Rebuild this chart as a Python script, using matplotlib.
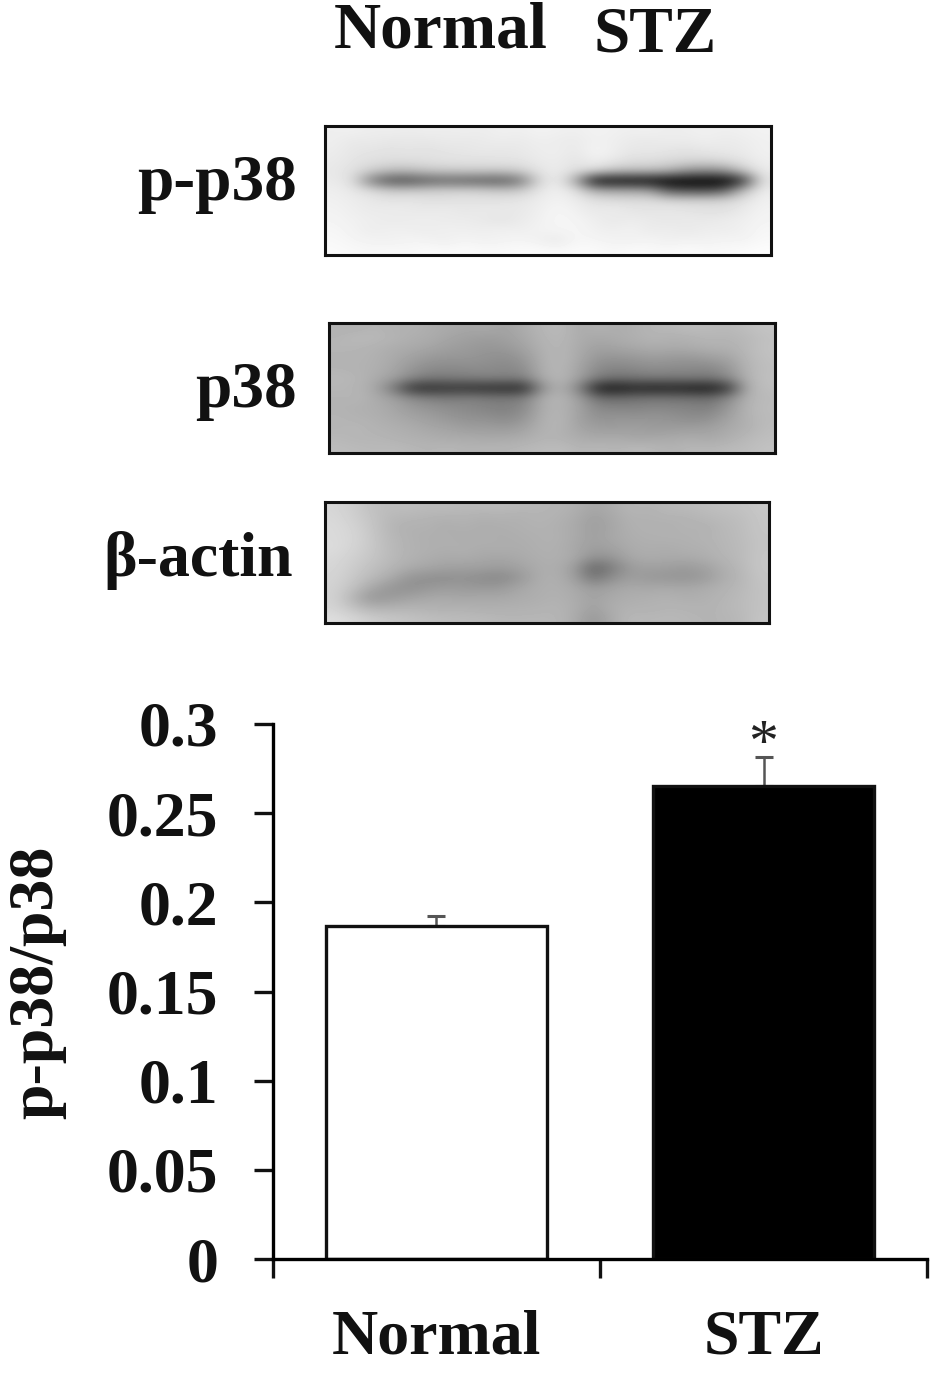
"""
Western blot panels and p-p38/p38 bar chart
"""

import matplotlib
matplotlib.use("Agg")
import matplotlib.pyplot as plt

# ---------------------------------------------------------------------------
# Data
# ---------------------------------------------------------------------------

groups = ["Normal", "STZ"]
ratio_means = [0.187, 0.2655]
ratio_errors = [0.0055, 0.016]
y_ticks = [0, 0.05, 0.1, 0.15, 0.2, 0.25, 0.3]
y_tick_labels = ["0", "0.05", "0.1", "0.15", "0.2", "0.25", "0.3"]
blot_names = ["p-p38", "p38", "β-actin"]

# gray levels of the blots, coarse grid
blot_pp38 = [
    [238, 240, 236, 238, 235, 238, 236, 238, 236, 240, 238, 242, 240, 238, 242, 240, 238, 240, 236, 238, 240, 238, 240, 242],
    [238, 232, 234, 230, 232, 230, 234, 232, 234, 236, 234, 238, 236, 234, 240, 238, 234, 232, 236, 234, 238, 234, 236, 240],
    [236, 230, 228, 226, 228, 226, 228, 230, 232, 230, 232, 236, 238, 232, 244, 238, 230, 232, 228, 226, 230, 232, 234, 240],
    [234, 228, 224, 222, 222, 224, 226, 226, 226, 228, 228, 234, 236, 228, 238, 232, 222, 222, 218, 216, 214, 220, 228, 238],
    [232, 224, 206, 190, 188, 198, 202, 204, 204, 202, 208, 228, 236, 222, 218, 196, 190, 190, 180, 150, 142, 150, 200, 234],
    [234, 222, 125, 80, 78, 94, 100, 96, 92, 88, 115, 212, 238, 170, 16, 10, 10, 8, 0, 0, 0, 0, 45, 226],
    [238, 232, 220, 204, 204, 206, 210, 210, 208, 200, 204, 230, 240, 226, 176, 168, 166, 160, 90, 80, 76, 95, 190, 236],
    [240, 236, 232, 228, 230, 226, 224, 228, 226, 228, 230, 236, 242, 236, 226, 222, 220, 222, 216, 214, 214, 216, 226, 240],
    [242, 238, 234, 236, 234, 232, 236, 230, 234, 232, 232, 238, 246, 240, 232, 236, 230, 228, 232, 228, 226, 224, 234, 242],
    [244, 240, 238, 234, 236, 238, 234, 236, 232, 228, 234, 240, 246, 244, 238, 232, 236, 234, 230, 234, 232, 236, 238, 244],
    [246, 242, 236, 240, 238, 236, 240, 238, 238, 240, 238, 242, 244, 246, 240, 238, 242, 234, 238, 232, 238, 236, 240, 246],
    [248, 244, 242, 240, 244, 242, 238, 244, 240, 242, 244, 240, 232, 246, 244, 242, 240, 244, 238, 242, 240, 244, 242, 248],
    [250, 248, 246, 248, 246, 250, 248, 250, 248, 248, 250, 250, 248, 250, 250, 246, 250, 248, 248, 250, 248, 248, 250, 252],
]

blot_p38 = [
    [178, 176, 182, 176, 178, 172, 170, 166, 170, 162, 172, 182, 186, 170, 178, 172, 176, 182, 184, 188, 186, 184, 190, 196],
    [180, 186, 184, 180, 174, 172, 164, 160, 156, 160, 168, 180, 184, 172, 168, 172, 176, 180, 176, 178, 182, 180, 184, 192],
    [182, 180, 178, 172, 170, 164, 158, 154, 150, 152, 162, 178, 182, 170, 160, 164, 168, 172, 170, 172, 176, 176, 184, 194],
    [178, 180, 176, 170, 160, 152, 150, 150, 146, 142, 152, 176, 184, 168, 150, 148, 152, 156, 152, 152, 158, 164, 182, 192],
    [180, 178, 176, 166, 150, 140, 138, 140, 140, 136, 142, 176, 182, 164, 138, 134, 138, 142, 140, 138, 136, 150, 180, 190],
    [184, 182, 172, 160, 136, 122, 124, 126, 130, 128, 130, 172, 184, 160, 124, 114, 118, 122, 120, 122, 120, 138, 178, 192],
    [182, 180, 168, 118, 46, 44, 50, 48, 44, 42, 40, 146, 178, 128, 26, 22, 34, 28, 32, 26, 24, 52, 174, 190],
    [180, 182, 172, 160, 140, 128, 124, 130, 124, 122, 128, 174, 182, 158, 112, 108, 114, 118, 116, 114, 110, 138, 178, 186],
    [178, 176, 174, 166, 154, 148, 142, 136, 132, 128, 138, 174, 180, 162, 136, 134, 132, 136, 134, 132, 128, 152, 180, 188],
    [182, 178, 176, 170, 164, 158, 150, 146, 144, 138, 148, 176, 182, 160, 146, 150, 148, 150, 146, 140, 144, 162, 178, 186],
    [180, 184, 178, 176, 172, 166, 164, 156, 158, 154, 162, 178, 180, 164, 158, 156, 160, 154, 156, 158, 160, 170, 176, 188],
    [184, 180, 182, 178, 176, 174, 170, 172, 168, 170, 172, 180, 178, 172, 168, 172, 164, 168, 170, 172, 168, 174, 184, 190],
    [188, 186, 184, 186, 182, 180, 184, 178, 182, 180, 184, 186, 188, 180, 184, 180, 186, 182, 178, 184, 182, 186, 188, 194],
]

blot_actin = [
    [214, 206, 192, 188, 190, 186, 188, 184, 186, 186, 184, 182, 180, 176, 166, 172, 182, 180, 184, 186, 188, 192, 194, 200],
    [216, 208, 196, 184, 182, 180, 178, 180, 176, 178, 176, 180, 178, 172, 160, 168, 178, 176, 180, 178, 184, 186, 190, 198],
    [218, 212, 198, 182, 176, 178, 172, 176, 172, 174, 176, 178, 176, 170, 158, 166, 176, 178, 174, 180, 176, 184, 188, 198],
    [218, 214, 200, 184, 178, 174, 176, 172, 176, 172, 174, 176, 178, 170, 160, 168, 174, 176, 178, 176, 180, 182, 188, 196],
    [220, 212, 200, 186, 178, 176, 174, 176, 172, 174, 172, 176, 176, 168, 158, 162, 172, 174, 172, 176, 176, 182, 186, 196],
    [216, 208, 198, 186, 178, 174, 170, 172, 168, 166, 170, 174, 176, 170, 146, 150, 168, 172, 170, 170, 174, 180, 186, 198],
    [214, 204, 192, 182, 172, 166, 162, 160, 160, 156, 162, 172, 174, 158, 100, 124, 156, 160, 158, 154, 160, 174, 184, 198],
    [212, 200, 186, 172, 150, 144, 142, 146, 140, 136, 150, 172, 176, 160, 116, 142, 158, 152, 150, 148, 154, 172, 182, 196],
    [210, 194, 168, 150, 144, 150, 156, 154, 152, 154, 166, 174, 176, 170, 156, 164, 170, 168, 170, 168, 172, 178, 184, 194],
    [210, 180, 150, 154, 162, 168, 170, 166, 170, 168, 172, 174, 178, 172, 162, 170, 174, 176, 178, 174, 176, 180, 186, 194],
    [212, 194, 178, 178, 180, 178, 176, 178, 174, 176, 176, 178, 180, 174, 160, 174, 178, 178, 180, 180, 178, 182, 186, 194],
    [222, 214, 204, 198, 194, 190, 188, 186, 186, 182, 182, 182, 182, 172, 150, 170, 184, 182, 184, 182, 180, 180, 184, 196],
]
blots = [blot_pp38, blot_p38, blot_actin]

# ---------------------------------------------------------------------------
# Layout helpers
# ---------------------------------------------------------------------------

FIG_W, FIG_H = 945, 1381
FONT = "Liberation Serif"


def px_axes(fig, left, top, right, bottom):
    """Add axes from pixel edges counted from the top left."""
    return fig.add_axes([left / FIG_W, 1 - bottom / FIG_H,
                         (right - left) / FIG_W, (bottom - top) / FIG_H])


def px_text(fig, x, y, s, size=46, ha="center"):
    """Bold serif label placed at a pixel position."""
    fig.text(x / FIG_W, 1 - y / FIG_H, s, fontsize=size, fontweight="bold",
             family=FONT, ha=ha, va="center", color="#111111")


# ---------------------------------------------------------------------------
# Figure
# ---------------------------------------------------------------------------

fig = plt.figure(figsize=(FIG_W / 100, FIG_H / 100), dpi=100)

# header over the blots
px_text(fig, 441, 32, groups[0], size=47)
px_text(fig, 655, 35, groups[1], size=47)

# blot panels
blot_boxes = [(325, 126, 771, 255), (329, 323, 775, 453), (325, 502, 769, 623)]
label_pos = [(297, 184), (297, 391), (293, 560)]
label_size = [47, 47, 46]
for data, box, pos, name, size in zip(blots, blot_boxes, label_pos, blot_names, label_size):
    ax = px_axes(fig, *box)
    ax.imshow(data, cmap="gray", vmin=0, vmax=255, aspect="auto", interpolation="bicubic")
    ax.set_xticks([])
    ax.set_yticks([])
    for spine in ax.spines.values():
        spine.set_linewidth(2.2)
        spine.set_color("#111111")
    px_text(fig, pos[0], pos[1], name, size=size, ha="right")

# bar chart
ax = px_axes(fig, 273, 724, 927, 1259)
x_pos = [0, 1]
ax.errorbar(x_pos, ratio_means, yerr=[[0, 0], ratio_errors], fmt="none", ecolor="#555555",
            elinewidth=1.8, capsize=6.5, capthick=2.2, zorder=1)
ax.bar(x_pos, ratio_means, width=0.675, color=["white", "black"], edgecolor="#111111",
       linewidth=2.4, zorder=2)
ax.text(1, ratio_means[1] + ratio_errors[1] - 0.009, "*", fontsize=43, family=FONT,
        ha="center", va="bottom", color="#222222")

ax.set_xlim(-0.5, 1.5)
ax.set_ylim(0, 0.3)
ax.set_yticks(y_ticks)
ax.set_yticklabels(y_tick_labels, fontsize=46, fontweight="bold", family=FONT, color="#111111")
ax.set_ylabel("p-p38/p38", fontsize=46, fontweight="bold", family=FONT, color="#111111")
ax.yaxis.set_label_coords((66 - 273) / 654, (1259 - 982) / 535)
ax.set_xticks([-0.5, 0.5, 1.5])
ax.set_xticklabels([])
ax.set_xticks(x_pos, minor=True)
ax.set_xticklabels(groups, minor=True, fontsize=46, fontweight="bold", family=FONT, color="#111111")
ax.tick_params(axis="both", which="major", length=13.5, width=2.4, color="#111111")
ax.tick_params(axis="y", pad=26)
ax.tick_params(axis="x", which="minor", length=0, pad=36)
ax.spines["top"].set_visible(False)
ax.spines["right"].set_visible(False)
ax.spines["left"].set_linewidth(2.4)
ax.spines["bottom"].set_linewidth(2.4)

fig.savefig("out.png", dpi=100)
plt.close(fig)
